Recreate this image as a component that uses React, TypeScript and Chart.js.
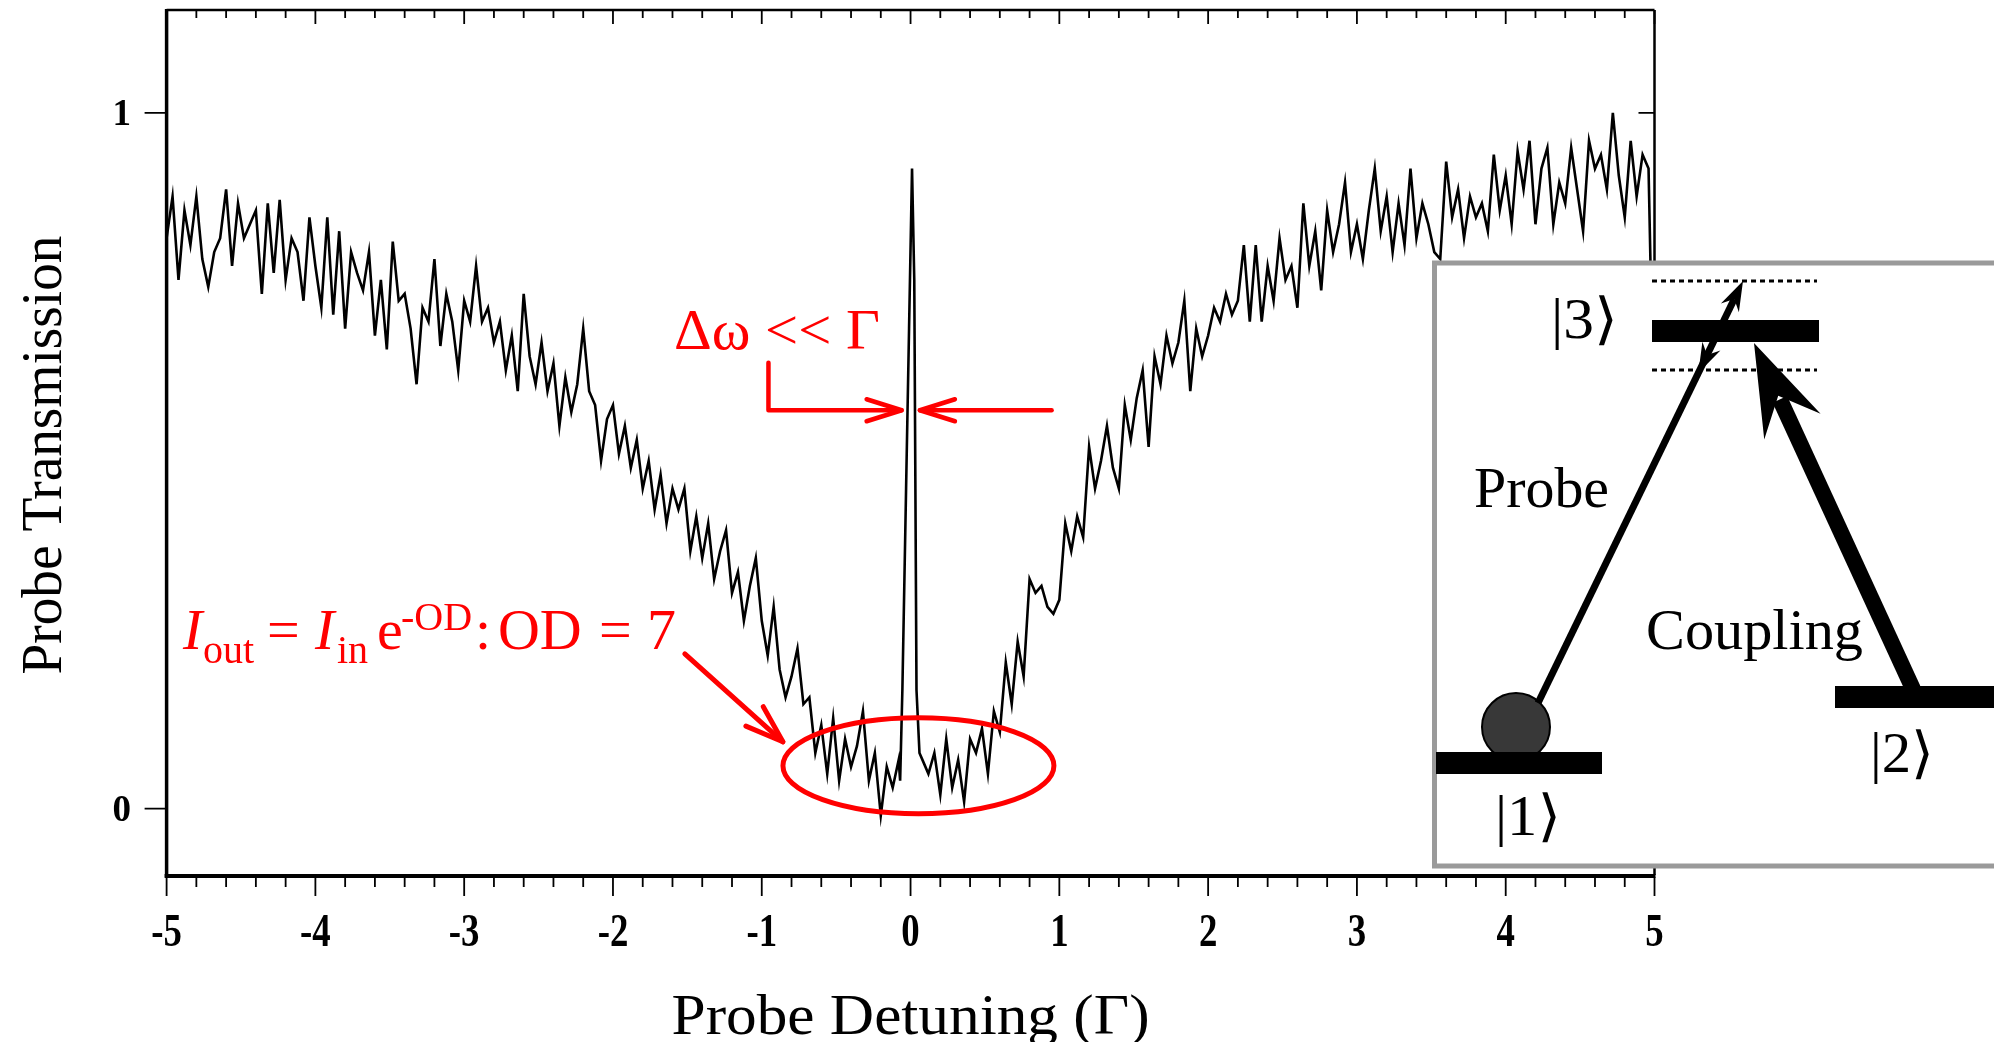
import React, { useEffect, useRef } from 'react';
import { Chart, registerables } from 'chart.js';

Chart.register(...registerables);

const CANVAS_W = 1994;
const CANVAS_H = 1042;
const SERIF = "'Liberation Serif', 'Times New Roman', 'DejaVu Serif', serif";
const RED = '#ff0000';

// ---------------- data ----------------
const leftStart = -5;      // detuning of leftTransmission[0]
const rightStart = 0.08;   // detuning of rightTransmission[0]
const sampleStep = 0.04;   // detuning spacing of the sampled traces

const leftTransmission = [
  0.82, 0.88, 0.76, 0.86, 0.81, 0.88, 0.79, 0.75, 0.80, 0.82,
  0.89, 0.78, 0.87, 0.82, 0.84, 0.86, 0.74, 0.87, 0.77, 0.875,
  0.76, 0.82, 0.80, 0.73, 0.85, 0.78, 0.72, 0.85, 0.71, 0.83,
  0.69, 0.80, 0.77, 0.745, 0.80, 0.68, 0.76, 0.66, 0.815, 0.73,
  0.74, 0.69, 0.61, 0.72, 0.70, 0.79, 0.665, 0.74, 0.70, 0.63,
  0.73, 0.70, 0.78, 0.70, 0.72, 0.67, 0.70, 0.63, 0.68, 0.60,
  0.74, 0.65, 0.61, 0.67, 0.60, 0.64, 0.55, 0.62, 0.57, 0.61,
  0.69, 0.60, 0.58, 0.50, 0.56, 0.58, 0.51, 0.55, 0.49, 0.53,
  0.46, 0.50, 0.43, 0.48, 0.41, 0.46, 0.43, 0.46, 0.37, 0.42,
  0.36, 0.41, 0.33, 0.37, 0.40, 0.31, 0.34, 0.27, 0.32, 0.36,
  0.27, 0.22, 0.29, 0.20, 0.16, 0.19, 0.23, 0.15, 0.16, 0.08,
  0.12, 0.05, 0.13, 0.04, 0.10, 0.06, 0.09, 0.14, 0.04, 0.08,
  -0.01, 0.06, 0.03, 0.07,
];

// the narrow EIT transmission window, resolved more finely
const peakDetuning = [-0.07, -0.055, -0.03, -0.01, 0.01, 0.025, 0.04, 0.06];
const peakTransmission = [0.04, 0.17, 0.46, 0.69, 0.92, 0.76, 0.17, 0.08];

const rightTransmission = [
  0.07, 0.05, 0.08, 0.02, 0.10, 0.03, 0.07, 0.01, 0.10, 0.08, 0.115, 0.05, 0.14, 0.11,
  0.21, 0.15, 0.24, 0.19, 0.33, 0.31, 0.32, 0.29, 0.28, 0.30,
  0.41, 0.37, 0.42, 0.39, 0.52, 0.46, 0.50, 0.55, 0.49, 0.46,
  0.58, 0.53, 0.59, 0.63, 0.52, 0.65, 0.61, 0.68, 0.64, 0.67,
  0.73, 0.60, 0.69, 0.65, 0.68, 0.72, 0.70, 0.74, 0.71, 0.73,
  0.81, 0.70, 0.81, 0.70, 0.78, 0.73, 0.82, 0.76, 0.78, 0.72,
  0.87, 0.78, 0.83, 0.745, 0.86, 0.80, 0.84, 0.90, 0.80, 0.84,
  0.79, 0.86, 0.92, 0.83, 0.88, 0.80, 0.87, 0.81, 0.92, 0.82,
  0.87, 0.84, 0.80, 0.79, 0.93, 0.85, 0.89, 0.82, 0.88, 0.85,
  0.87, 0.83, 0.94, 0.86, 0.91, 0.84, 0.945, 0.89, 0.96, 0.84,
  0.92, 0.95, 0.84, 0.90, 0.87, 0.95, 0.89, 0.83, 0.96, 0.92,
  0.94, 0.89, 1.00, 0.91, 0.85, 0.96, 0.88, 0.94, 0.92,
  0.50,
];

const xTickValues = [-5, -4, -3, -2, -1, 0, 1, 2, 3, 4, 5];
const xTickLabels = ['-5', '-4', '-3', '-2', '-1', '0', '1', '2', '3', '4', '5'];
const xMinorDivisions = 5;
const yTickValues = [0, 1];
const yTickLabels = ['0', '1'];
const xTitle = 'Probe Detuning (\u0393)';
const yTitle = 'Probe Transmission';

const X_MIN = -5;
const X_MAX = 5;
const Y_MIN = -0.0955;
const Y_MAX = 1.148;

function buildPoints() {
  const pts: { x: number; y: number }[] = [];
  leftTransmission.forEach((v, i) => pts.push({ x: +(leftStart + i * sampleStep).toFixed(3), y: v }));
  peakDetuning.forEach((d, i) => pts.push({ x: d, y: peakTransmission[i] }));
  rightTransmission.forEach((v, i) => pts.push({ x: +(rightStart + i * sampleStep).toFixed(3), y: v }));
  return pts;
}

// ---------------- drawing helpers ----------------
function fitText(ctx: CanvasRenderingContext2D, text: string, x: number, y: number, font: string,
  targetWidth: number, align: CanvasTextAlign = 'left') {
  ctx.font = font;
  const w = ctx.measureText(text).width;
  const s = targetWidth > 0 && w > 0 ? targetWidth / w : 1;
  ctx.save();
  ctx.translate(x, y);
  ctx.scale(s, 1);
  ctx.textAlign = align;
  ctx.textBaseline = 'alphabetic';
  ctx.fillText(text, 0, 0);
  ctx.restore();
}

function openArrowHead(ctx: CanvasRenderingContext2D, tx: number, ty: number, dx: number, dy: number,
  len: number, half: number) {
  const n = Math.hypot(dx, dy);
  dx /= n; dy /= n;
  const px = -dy, py = dx;
  ctx.beginPath();
  ctx.moveTo(tx - len * dx + half * px, ty - len * dy + half * py);
  ctx.lineTo(tx, ty);
  ctx.lineTo(tx - len * dx - half * px, ty - len * dy - half * py);
  ctx.stroke();
}

function barbArrowHead(ctx: CanvasRenderingContext2D, tx: number, ty: number, dx: number, dy: number,
  len: number, half: number, notch: number) {
  const n = Math.hypot(dx, dy);
  dx /= n; dy /= n;
  const px = -dy, py = dx;
  ctx.beginPath();
  ctx.moveTo(tx, ty);
  ctx.lineTo(tx - len * dx + half * px, ty - len * dy + half * py);
  ctx.lineTo(tx - notch * dx, ty - notch * dy);
  ctx.lineTo(tx - len * dx - half * px, ty - len * dy - half * py);
  ctx.closePath();
  ctx.fill();
}

function drawInset(ctx: CanvasRenderingContext2D) {
  ctx.save();
  // box
  ctx.fillStyle = '#ffffff';
  ctx.fillRect(1434.5, 263, 600, 603);
  ctx.strokeStyle = '#9a9a9a';
  ctx.lineWidth = 5;
  ctx.strokeRect(1434.5, 263, 600, 603);

  ctx.fillStyle = '#000';
  ctx.strokeStyle = '#000';

  // dotted detuning lines around |3>
  ctx.save();
  ctx.lineWidth = 3;
  ctx.setLineDash([5, 4]);
  ctx.beginPath();
  ctx.moveTo(1652, 281); ctx.lineTo(1817, 281);
  ctx.moveTo(1652, 370); ctx.lineTo(1817, 370);
  ctx.stroke();
  ctx.restore();

  // atom
  ctx.beginPath();
  ctx.arc(1516, 727, 34, 0, Math.PI * 2);
  ctx.fillStyle = '#383838';
  ctx.fill();
  ctx.lineWidth = 2;
  ctx.strokeStyle = '#000';
  ctx.stroke();
  ctx.fillStyle = '#000';

  // levels
  ctx.fillRect(1436, 752, 166, 22);
  ctx.fillRect(1652, 320, 167, 22);
  ctx.fillRect(1835, 686, 170, 22);

  // probe arrow
  {
    const x0 = 1538, y0 = 703, tx = 1743, ty = 281;
    const dx = tx - x0, dy = ty - y0;
    const n = Math.hypot(dx, dy);
    const ux = dx / n, uy = dy / n;
    ctx.lineWidth = 7;
    ctx.lineCap = 'butt';
    ctx.beginPath();
    ctx.moveTo(x0, y0);
    ctx.lineTo(tx - 20 * ux, ty - 20 * uy);
    ctx.stroke();
    barbArrowHead(ctx, tx, ty, ux, uy, 30, 10, 20);
    // downward head on the lower dotted line
    const t2 = (y0 - 373) / (y0 - ty);
    const bx = x0 + dx * t2, by = 373;
    barbArrowHead(ctx, bx, by, -ux, -uy, 30, 10, 20);
  }

  // coupling arrow
  {
    const x0 = 1913, y0 = 689, tx = 1754, ty = 343;
    const dx = tx - x0, dy = ty - y0;
    const n = Math.hypot(dx, dy);
    const ux = dx / n, uy = dy / n;
    ctx.lineWidth = 16;
    ctx.beginPath();
    ctx.moveTo(x0, y0);
    ctx.lineTo(tx - 62 * ux, ty - 62 * uy);
    ctx.stroke();
    barbArrowHead(ctx, tx, ty, ux, uy, 92, 31, 58);
  }

  // labels
  ctx.fillStyle = '#000';
  const kfont = `56px ${SERIF}`;
  fitText(ctx, '|3\u27E9', 1551, 338, kfont, 67);
  fitText(ctx, '|1\u27E9', 1495, 835, kfont, 66);
  fitText(ctx, '|2\u27E9', 1870, 772, kfont, 64);
  fitText(ctx, 'Probe', 1474, 507, `58px ${SERIF}`, 135);
  fitText(ctx, 'Coupling', 1646, 649, `58px ${SERIF}`, 217);
  ctx.restore();
}

const overlayPlugin = {
  id: 'eitOverlay',
  afterDraw(chart: any) {
    const ctx: CanvasRenderingContext2D = chart.ctx;
    const xs = chart.scales.x;
    const ys = chart.scales.y;
    const { left, right, top, bottom } = chart.chartArea;
    const px = (d: number) => xs.getPixelForValue(d);
    const py = (v: number) => ys.getPixelForValue(v);

    ctx.save();
    ctx.strokeStyle = '#000';
    ctx.fillStyle = '#000';
    ctx.lineCap = 'butt';

    // frame
    ctx.lineWidth = 2.5;
    ctx.beginPath();
    ctx.moveTo(left, top); ctx.lineTo(right, top);
    ctx.moveTo(right, top); ctx.lineTo(right, bottom);
    ctx.stroke();
    ctx.lineWidth = 3.5;
    ctx.beginPath();
    ctx.moveTo(left, top - 1); ctx.lineTo(left, bottom + 2);
    ctx.stroke();
    ctx.lineWidth = 4;
    ctx.beginPath();
    ctx.moveTo(left - 2, bottom + 1); ctx.lineTo(right + 1, bottom + 1);
    ctx.stroke();

    // x ticks (bottom outward, top inward)
    ctx.lineWidth = 1.8;
    ctx.beginPath();
    for (let k = 0; k < xTickValues.length; k++) {
      const x = px(xTickValues[k]);
      ctx.moveTo(x, bottom + 2); ctx.lineTo(x, bottom + 21);
      ctx.moveTo(x, top); ctx.lineTo(x, top + 14);
      if (k < xTickValues.length - 1) {
        const a = xTickValues[k], b = xTickValues[k + 1];
        for (let m = 1; m < xMinorDivisions; m++) {
          const xm = px(a + ((b - a) * m) / xMinorDivisions);
          ctx.moveTo(xm, bottom + 2); ctx.lineTo(xm, bottom + 12);
          ctx.moveTo(xm, top); ctx.lineTo(xm, top + 8);
        }
      }
    }
    // y ticks (left outward, right inward)
    for (const v of yTickValues) {
      const y = py(v);
      ctx.moveTo(left - 22, y); ctx.lineTo(left, y);
      ctx.moveTo(right - 16, y); ctx.lineTo(right, y);
    }
    ctx.stroke();

    // tick labels
    ctx.fillStyle = '#000';
    xTickLabels.forEach((lab, k) => {
      ctx.font = `bold 46px ${SERIF}`;
      const w = ctx.measureText(lab).width;
      fitText(ctx, lab, px(xTickValues[k]), 946, `bold 46px ${SERIF}`, w * 0.8, 'center');
    });
    yTickLabels.forEach((lab, k) => {
      fitText(ctx, lab, 131, py(yTickValues[k]) + 12, `bold 37px ${SERIF}`, 0, 'right');
    });

    // axis titles
    fitText(ctx, xTitle, (left + right) / 2, 1034, `57px ${SERIF}`, 478, 'center');
    ctx.save();
    ctx.translate(61, 455);
    ctx.rotate(-Math.PI / 2);
    fitText(ctx, yTitle, 0, 0, `58px ${SERIF}`, 439, 'center');
    ctx.restore();

    // inset level diagram
    drawInset(ctx);

    // ---- red annotations ----
    ctx.strokeStyle = RED;
    ctx.fillStyle = RED;
    ctx.lineCap = 'round';
    ctx.lineJoin = 'round';

    // linewidth label
    fitText(ctx, '\u0394\u03C9 << \u0393', px(-1.59), py(0.661), `57px ${SERIF}`, 206, 'left');

    // bracket arrow pointing right to the peak
    const yb = py(0.5726);
    ctx.lineWidth = 4.5;
    ctx.beginPath();
    ctx.moveTo(px(-0.955), py(0.641));
    ctx.lineTo(px(-0.955), yb);
    ctx.lineTo(px(-0.06), yb);
    ctx.stroke();
    openArrowHead(ctx, px(-0.06), yb, 1, 0, 35, 11);
    // arrow pointing left to the peak
    ctx.beginPath();
    ctx.moveTo(px(0.948), yb);
    ctx.lineTo(px(0.063), yb);
    ctx.stroke();
    openArrowHead(ctx, px(0.063), yb, -1, 0, 35, 11);

    // optical depth formula
    const fx = px(-4.89);
    const fy = py(0.2297);
    const big = `58px ${SERIF}`;
    const bigI = `italic 58px ${SERIF}`;
    const small = `40px ${SERIF}`;
    const parts: [string, string, number, number][] = [
      ['I', bigI, 0, 0],
      ['out', small, 20, 14],
      ['=', big, 84, 0],
      ['I', bigI, 132, 0],
      ['in', small, 154, 14],
      ['e', big, 194, 0],
      ['-OD', small, 218, -19],
      [':', big, 292, 0],
      ['OD', big, 315, 0],
      ['=', big, 416, 0],
      ['7', big, 464, 0],
    ];
    ctx.textAlign = 'left';
    ctx.textBaseline = 'alphabetic';
    for (const [t, f, dx, dy] of parts) {
      ctx.font = f;
      ctx.fillText(t, fx + dx, fy + dy);
    }

    // arrow to the absorption floor
    ctx.lineWidth = 5;
    const ax0 = px(-1.517), ay0 = py(0.2224), ax1 = px(-0.858), ay1 = py(0.096);
    ctx.beginPath();
    ctx.moveTo(ax0, ay0);
    ctx.lineTo(ax1, ay1);
    ctx.stroke();
    openArrowHead(ctx, ax1, ay1, ax1 - ax0, ay1 - ay0, 38, 13);

    // ellipse around the absorption floor
    const cx = px(0.053), cy = py(0.0615);
    const rx = px(0.053 + 0.9106) - cx;
    const ry = cy - py(0.0615 + 0.069);
    ctx.beginPath();
    ctx.ellipse(cx, cy, rx, ry, 0, 0, Math.PI * 2);
    ctx.stroke();

    ctx.restore();
  },
};

export default function App() {
  const ref = useRef<HTMLCanvasElement>(null);
  useEffect(() => {
    const canvas = ref.current;
    if (!canvas) return;
    const chart = new Chart(canvas, {
      type: 'line',
      data: {
        datasets: [
          {
            data: buildPoints(),
            borderColor: '#000',
            borderWidth: 2.6,
            pointRadius: 0,
            tension: 0,
            fill: false,
          },
        ],
      },
      options: {
        animation: false,
        responsive: false,
        devicePixelRatio: 1,
        events: [],
        layout: { padding: { top: 10, right: 339.5, bottom: 0, left: 0 } },
        plugins: { legend: { display: false }, tooltip: { enabled: false } },
        scales: {
          x: {
            type: 'linear',
            min: X_MIN,
            max: X_MAX,
            grid: { display: false },
            border: { display: false },
            ticks: { display: false },
            afterFit: (s: any) => { s.height = 167; },
          },
          y: {
            type: 'linear',
            min: Y_MIN,
            max: Y_MAX,
            grid: { display: false },
            border: { display: false },
            ticks: { display: false },
            afterFit: (s: any) => { s.width = 166.6; },
          },
        },
      } as any,
      plugins: [overlayPlugin],
    });
    return () => chart.destroy();
  }, []);

  return (
    <div style={{ position: 'fixed', left: 0, top: 0, width: CANVAS_W, height: CANVAS_H, background: '#fff', overflow: 'hidden' }}>
      <canvas ref={ref} width={CANVAS_W} height={CANVAS_H} style={{ display: 'block', width: CANVAS_W, height: CANVAS_H }} />
    </div>
  );
}
